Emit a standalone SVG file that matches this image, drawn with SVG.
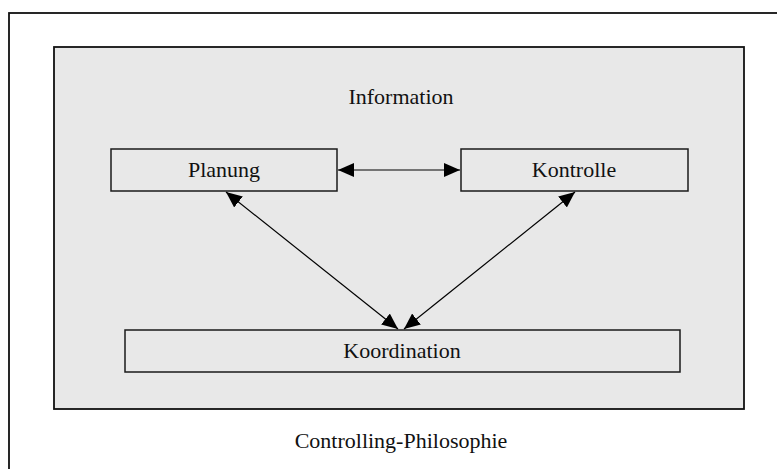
<svg xmlns="http://www.w3.org/2000/svg" width="777" height="469" viewBox="0 0 777 469">
  <style>
    .frame { fill: none; stroke: #111; stroke-width: 1.8; }
    .panel { fill: #e8e8e8; stroke: #111; stroke-width: 1.8; }
    .box { fill: #e8e8e8; stroke: #1a1a1a; stroke-width: 1.5; }
    .label { font-family: 'Liberation Serif', serif; font-size: 22px; fill: #111; text-anchor: middle; }
    .link { stroke: #000; stroke-width: 1.2; fill: none; }
  </style>
  <defs>
    <marker id="head" viewBox="0 0 16 14" refX="16" refY="7" markerWidth="16" markerHeight="14" markerUnits="userSpaceOnUse" orient="auto-start-reverse">
      <path d="M0,0 L16,7 L0,14 Z" fill="#000"/>
    </marker>
  </defs>
  <rect width="777" height="469" fill="#ffffff"/>
  <!-- outer frame, open to the right and bottom -->
  <rect class="frame" x="9" y="13" width="800" height="500"/>
  <!-- grey panel -->
  <rect class="panel" x="54" y="47" width="690" height="362"/>
  <text class="label" x="401" y="104">Information</text>

  <g id="planung">
    <rect class="box" x="111" y="149" width="226" height="42"/>
    <text class="label" x="224" y="177">Planung</text>
  </g>
  <g id="kontrolle">
    <rect class="box" x="461" y="149" width="227" height="42"/>
    <text class="label" x="574" y="177">Kontrolle</text>
  </g>
  <g id="koordination">
    <rect class="box" x="125" y="330" width="555" height="42"/>
    <text class="label" x="402" y="358">Koordination</text>
  </g>

  <g id="connectors">
    <line class="link" x1="338" y1="170" x2="460" y2="170" marker-start="url(#head)" marker-end="url(#head)"/>
    <line class="link" x1="226" y1="192" x2="398" y2="329" marker-start="url(#head)" marker-end="url(#head)"/>
    <line class="link" x1="575" y1="192" x2="404" y2="329" marker-start="url(#head)" marker-end="url(#head)"/>
  </g>

  <text class="label" x="401" y="448">Controlling-Philosophie</text>
</svg>
